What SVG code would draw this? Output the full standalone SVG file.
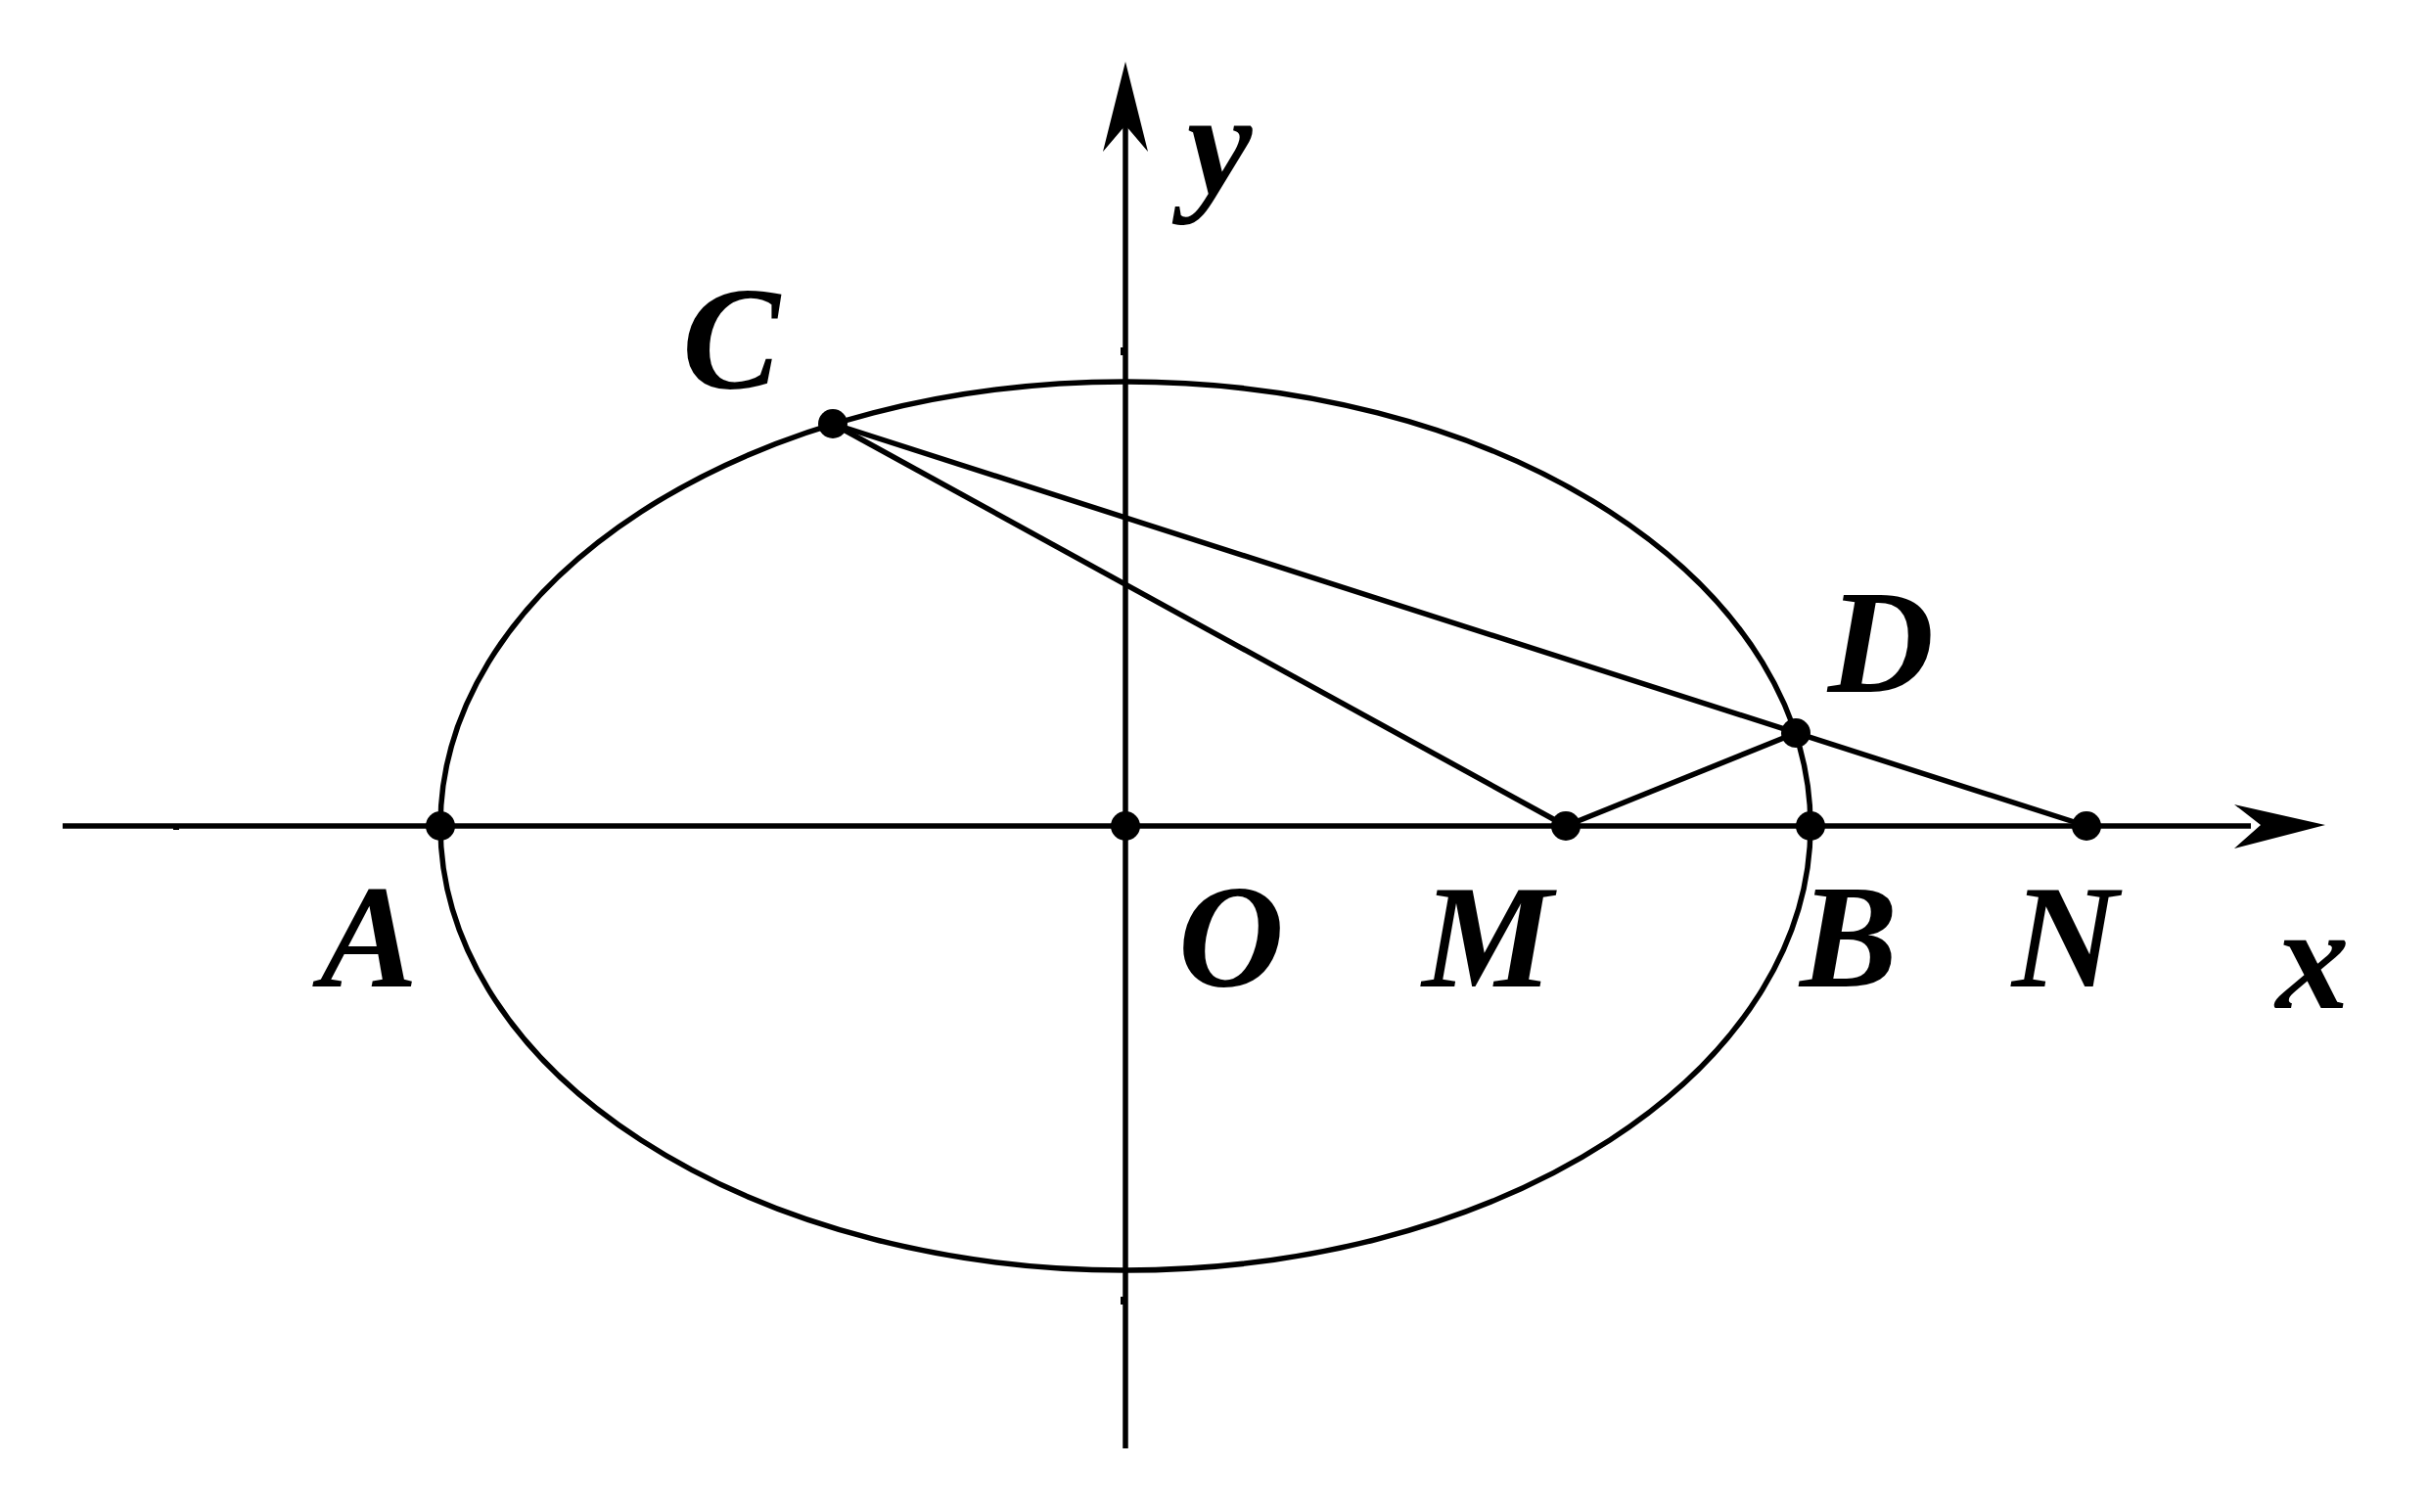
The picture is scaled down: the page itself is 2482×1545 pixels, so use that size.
<svg xmlns="http://www.w3.org/2000/svg" width="2482" height="1545" viewBox="0 0 2482 1545">
<style>
.ln{stroke:#000;stroke-width:5.5;fill:none}
.pt{fill:#000}
</style>
<rect width="2482" height="1545" fill="#fff"/>
<g id="axes">
<line class="ln" x1="64" y1="844" x2="2300" y2="844"/>
<polygon class="pt" points="2376,843 2283,822 2310,843 2283,867"/>
<line class="ln" x1="1150" y1="1480" x2="1150" y2="120"/>
<polygon class="pt" points="1150,63 1127,155 1150,128 1173,155"/>
<rect class="pt" x="1145" y="355" width="3" height="8"/>
<rect class="pt" x="1145" y="1325" width="3" height="8"/>
<rect class="pt" x="177" y="845" width="6" height="3"/>
</g>
<g id="ellipse">
<ellipse class="ln" cx="1150" cy="844" rx="700" ry="454"/>
</g>
<g id="connectors">
<line class="ln" x1="851" y1="433" x2="2132" y2="844"/>
<line class="ln" x1="851" y1="433" x2="1600" y2="844"/>
<line class="ln" x1="1600" y1="844" x2="1835" y2="749"/>
</g>
<g font-family="Liberation Serif, Times New Roman, Times, serif" font-weight="700" font-style="italic" font-size="150" fill="#000" text-anchor="middle">
<g id="A"><circle cx="450" cy="844" r="15"/><text x="377" y="1008">A</text></g>
<g id="O"><circle cx="1150" cy="844" r="15"/><text x="1258" y="1008">O</text></g>
<g id="M"><circle cx="1600" cy="844" r="15"/><text x="1520" y="1008">M</text></g>
<g id="B"><circle cx="1850" cy="844" r="15"/><text x="1889" y="1008">B</text></g>
<g id="N"><circle cx="2132" cy="844" r="15"/><text x="2110" y="1008">N</text></g>
<g id="C"><circle cx="851" cy="433" r="15"/><text x="747" y="397">C</text></g>
<g id="D"><circle cx="1835" cy="749" r="15"/><text x="1922" y="707">D</text></g>
<g id="xlabel"><text x="2363" y="1030">x</text></g>
<g id="ylabel"><text x="1246" y="198">y</text></g>
</g>
</svg>
